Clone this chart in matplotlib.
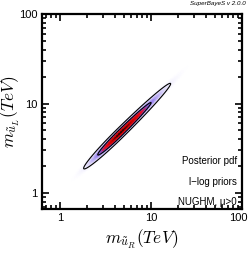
import numpy as np
import matplotlib
matplotlib.use("Agg")
import matplotlib.pyplot as plt
import matplotlib.transforms as mtransforms
from matplotlib.colors import LinearSegmentedColormap
from matplotlib.ticker import LogLocator, FixedLocator, NullFormatter

# ---- data (log10 of masses in TeV) ----
mode_log = [0.66, 0.67]          # peak of posterior (log10 m_uR, log10 m_uL)
sigma_major_low = 0.23           # spread along ridge, below the peak
sigma_major_high = 0.32          # spread along ridge, above the peak
sigma_minor = 0.022              # spread across ridge
ridge_angle_deg = 45.0
credible_levels = [0.68, 0.95]
x_limits = [0.634, 100]
y_limits = [0.664, 100]
xtick_vals = [1, 10, 100]
xtick_labels = ["1", "10", "100"]
ytick_vals = [1, 10, 100]
ytick_labels = ["1", "10", "100"]
annotations = ["Posterior pdf", "l\u2212log priors", "NUGHM, \u03bc>0"]
version_text = "SuperBayeS v 2.0.0"

plt.rcParams["mathtext.fontset"] = "cm"
plt.rcParams["font.family"] = ["Liberation Sans", "DejaVu Sans"]

fig = plt.figure(figsize=(2.49, 2.56), dpi=100)
ax = fig.add_axes([42/249, 1-209/256, 200/249, 195/256])

lx = np.linspace(np.log10(x_limits[0]), np.log10(x_limits[1]), 500)
ly = np.linspace(np.log10(y_limits[0]), np.log10(y_limits[1]), 500)
LX, LY = np.meshgrid(lx, ly)
th = np.deg2rad(ridge_angle_deg)
du = (LX - mode_log[0]) * np.cos(th) + (LY - mode_log[1]) * np.sin(th)
dv = -(LX - mode_log[0]) * np.sin(th) + (LY - mode_log[1]) * np.cos(th)
su = np.where(du < 0, sigma_major_low, sigma_major_high)
P = np.exp(-0.5 * ((du / su) ** 2 + (dv / sigma_minor) ** 2))
P = P / P.max()

# credible-region levels
flat = np.sort(P.ravel())[::-1]
cum = np.cumsum(flat) / flat.sum()
levels = sorted([flat[np.searchsorted(cum, c)] for c in credible_levels])

cmap = LinearSegmentedColormap.from_list("sb", [
    (0.0, "#ffffff"), (0.05, "#f0eefd"), (0.15, "#c8bdf6"), (0.28, "#9c86ee"),
    (0.4, "#8060dc"), (0.5, "#c02060"), (0.62, "#e80a10"), (0.85, "#c00000"),
    (1.0, "#300000")])

ax.pcolormesh(10**LX, 10**LY, P, cmap=cmap, vmin=0, vmax=1, shading="auto",
              rasterized=True)
ax.contour(10**LX, 10**LY, P, levels=levels, colors="black", linewidths=0.8)

ax.set_xscale("log")
ax.set_yscale("log")
ax.set_xlim(x_limits)
ax.set_ylim(y_limits)
ax.xaxis.set_major_locator(FixedLocator(xtick_vals))
ax.set_xticklabels(xtick_labels)
ax.yaxis.set_major_locator(FixedLocator(ytick_vals))
ax.set_yticklabels(ytick_labels)
ax.xaxis.set_minor_locator(LogLocator(base=10, subs=np.arange(2, 10)))
ax.yaxis.set_minor_locator(LogLocator(base=10, subs=np.arange(2, 10)))
ax.xaxis.set_minor_formatter(NullFormatter())
ax.yaxis.set_minor_formatter(NullFormatter())
ax.tick_params(which="both", direction="in", top=True, right=True,
               width=1.2, labelsize=8, colors="black")
ax.tick_params(which="major", length=5, pad=3)
ax.tick_params(which="minor", length=3)
for s in ax.spines.values():
    s.set_linewidth(1.6)

# nudge the last x tick label left so it fits inside the figure
shift = mtransforms.ScaledTranslation(-4/100, 0, fig.dpi_scale_trans)
lbls = ax.get_xticklabels()
lbls[-1].set_transform(lbls[-1].get_transform() + shift)

ax.set_xlabel(r"$m_{\tilde{u}_R}(TeV)$", fontsize=12.5)
ax.xaxis.set_label_coords(0.5, -0.095)
ax.set_ylabel(r"$m_{\tilde{u}_L}(TeV)$", fontsize=12.5)
ax.yaxis.set_label_coords(-0.1, 0.5)

for i, t in enumerate(annotations):
    ax.text(0.975, 0.245 - i * 0.105, t, transform=ax.transAxes, ha="right",
            va="center", fontsize=7)
fig.text(246/249, 1-4/256, version_text, ha="right", va="center",
         fontsize=4.5, style="italic")

fig.savefig("out.png", dpi=100)
